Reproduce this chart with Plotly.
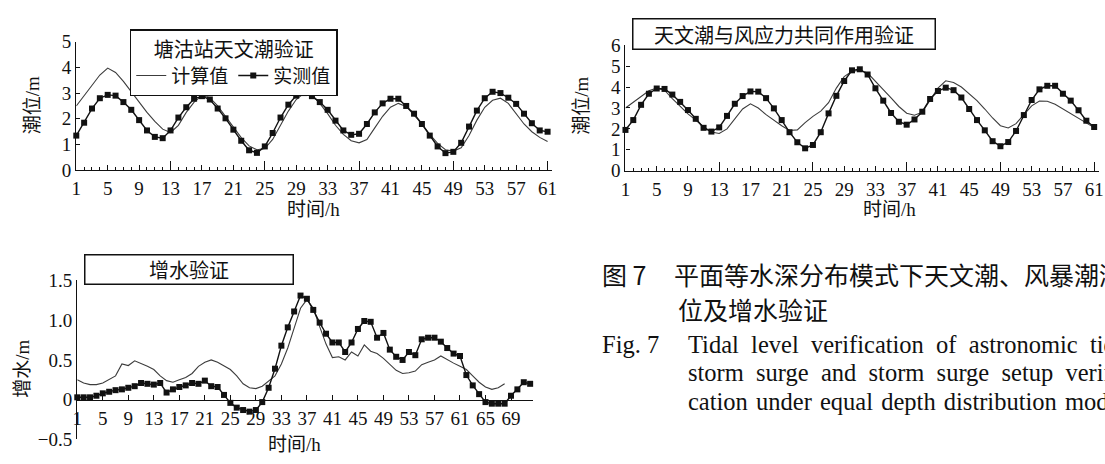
import plotly.graph_objects as go

W, H = 1105, 464

# ---------------- data ----------------
hours_61 = list(range(1, 62))

tanggu_calc = [2.5, 2.9, 3.3, 3.7, 3.97, 3.8, 3.45, 3.05, 2.65, 2.25,
               1.9, 1.6, 1.47, 1.75, 2.25, 2.65, 2.9, 2.82, 2.5, 2.1,
               1.68, 1.27, 0.95, 0.8, 0.85, 1.2, 1.75, 2.3, 2.75, 3.0,
               2.93, 2.6, 2.2, 1.75, 1.4, 1.15, 1.07, 1.2, 1.65, 2.1,
               2.45, 2.6, 2.48, 2.15, 1.8, 1.4, 1.05, 0.8, 0.75, 0.88,
               1.35, 1.95, 2.45, 2.72, 2.8, 2.6, 2.2, 1.8, 1.5, 1.28, 1.12]

tanggu_meas = [1.35, 1.85, 2.4, 2.8, 2.93, 2.9, 2.65, 2.35, 1.95, 1.55,
               1.3, 1.25, 1.55, 2.05, 2.45, 2.78, 2.88, 2.75, 2.4, 2.02,
               1.58, 1.15, 0.78, 0.68, 0.93, 1.45, 2.05, 2.55, 2.9, 3.0,
               2.88, 2.65, 2.35, 1.93, 1.55, 1.38, 1.42, 1.8, 2.25, 2.6,
               2.78, 2.78, 2.5, 2.2, 1.8, 1.35, 0.93, 0.67, 0.72, 1.07,
               1.7, 2.32, 2.8, 3.05, 3.0, 2.82, 2.58, 2.2, 1.83, 1.55, 1.5]

combined_calc = [3.0, 3.27, 3.55, 3.82, 3.95, 3.85, 3.45, 3.08, 2.72, 2.42,
                 2.1, 1.85, 1.78, 2.0, 2.45, 2.95, 3.2, 3.0, 2.68, 2.4,
                 2.15, 1.92, 1.95, 2.3, 2.6, 2.85, 3.25, 3.95, 4.5, 4.75,
                 4.8, 4.67, 4.3, 3.88, 3.48, 3.07, 2.75, 2.65, 2.8, 3.35,
                 3.95, 4.3, 4.22, 4.0, 3.68, 3.35, 2.95, 2.52, 2.15, 2.04,
                 2.25, 2.65, 3.1, 3.33, 3.32, 3.18, 2.95, 2.72, 2.5, 2.3, 2.06]

combined_meas = [1.95, 2.42, 3.15, 3.68, 3.93, 3.91, 3.64, 3.29, 2.9, 2.48,
                 2.05, 1.87, 2.07, 2.62, 3.2, 3.57, 3.79, 3.78, 3.47, 2.98,
                 2.42, 1.84, 1.36, 1.07, 1.23, 1.84, 2.74, 3.58, 4.29, 4.8,
                 4.85, 4.6, 3.94, 3.35, 2.76, 2.34, 2.2, 2.45, 2.82, 3.43,
                 3.81, 3.97, 3.85, 3.5, 2.95, 2.42, 1.93, 1.41, 1.17, 1.37,
                 1.9, 2.66, 3.38, 3.89, 4.06, 4.06, 3.68, 3.35, 2.89, 2.39, 2.09]

surge_calc_hours = list(range(1, 69))
surge_calc = [0.25, 0.21, 0.19, 0.19, 0.21, 0.25, 0.30, 0.45, 0.43, 0.49,
              0.46, 0.42, 0.38, 0.30, 0.24, 0.22, 0.25, 0.28, 0.33, 0.42,
              0.47, 0.50, 0.47, 0.42, 0.38, 0.30, 0.20, 0.15, 0.14, 0.17,
              0.23, 0.30, 0.45, 0.65, 0.90, 1.15, 1.26, 1.15, 0.92, 0.70,
              0.53, 0.54, 0.50, 0.60, 0.55, 0.69, 0.61, 0.58, 0.52, 0.45,
              0.37, 0.33, 0.34, 0.36, 0.44, 0.47, 0.50, 0.55, 0.50, 0.46,
              0.42, 0.38, 0.30, 0.22, 0.16, 0.13, 0.15, 0.20]

surge_meas_hours = list(range(1, 73))
surge_meas = [0.03, 0.03, 0.03, 0.05, 0.08, 0.10, 0.12, 0.13, 0.15, 0.17,
              0.21, 0.20, 0.19, 0.21, 0.09, 0.13, 0.16, 0.18, 0.21, 0.20,
              0.24, 0.17, 0.16, 0.06, -0.04, -0.10, -0.13, -0.15, -0.13, -0.03,
              0.15, 0.39, 0.68, 0.91, 1.11, 1.31, 1.27, 1.13, 0.97, 0.83,
              0.72, 0.72, 0.60, 0.72, 0.89, 0.99, 0.98, 0.78, 0.84, 0.63,
              0.54, 0.50, 0.60, 0.56, 0.76, 0.78, 0.78, 0.73, 0.65, 0.58,
              0.55, 0.31, 0.18, 0.07, -0.03, -0.05, -0.05, -0.05, 0.05, 0.13,
              0.22, 0.20]

tide_ticks = list(range(1, 62, 4))
tide_major_ticks = list(range(1, 62, 12))
surge_ticks = list(range(1, 70, 4))
surge_yticks = [-0.5, 0, 0.5, 1.0, 1.5]
surge_yticktext = ["\u22120.5", "0", "0.5", "1.0", "1.5"]

# ---------------- style ----------------
SERIF = "Liberation Serif, Noto Sans CJK SC"
CJK = "Noto Sans CJK SC"
INK = "#111111"
CALC = "#3c3c3c"


def fx(p):
    return p / W


def fy(p):
    return 1 - p / H


fig = go.Figure()


def add_pair(xc, yc, xm, ym, xa, ya, legend):
    fig.add_trace(go.Scatter(x=xc, y=yc, mode="lines", name="计算值",
                             line=dict(color=CALC, width=1.1),
                             xaxis=xa, yaxis=ya, showlegend=legend, cliponaxis=False))
    fig.add_trace(go.Scatter(x=xm, y=ym, mode="lines+markers", name="实测值",
                             line=dict(color=INK, width=1.4),
                             marker=dict(symbol="square", size=6, color=INK),
                             xaxis=xa, yaxis=ya, showlegend=legend, cliponaxis=False))


add_pair(hours_61, tanggu_calc, hours_61, tanggu_meas, "x", "y", True)
add_pair(hours_61, combined_calc, hours_61, combined_meas, "x2", "y2", False)
add_pair(surge_calc_hours, surge_calc, surge_meas_hours, surge_meas, "x3", "y3", False)

# empty carriers for the overlay tick axes
for xa, ya in (("x4", "y"), ("x5", "y2"), ("x3", "y6")):
    fig.add_trace(go.Scatter(x=[], y=[], xaxis=xa, yaxis=ya, showlegend=False, hoverinfo="skip"))

tickfont = dict(family=SERIF, size=19, color=INK)
base = dict(showline=True, linecolor=INK, linewidth=1.3, ticks="inside", tickcolor=INK,
            tickwidth=1, showgrid=False, zeroline=False, tickfont=tickfont, fixedrange=True)
minor = dict(ticks="inside", ticklen=3, tickmode="linear", tick0=1, dtick=1,
             tickcolor=INK, tickwidth=1, showgrid=False)
tall = dict(showline=False, showgrid=False, zeroline=False, ticks="inside", ticklen=9,
            tickcolor=INK, tickwidth=1, showticklabels=False, fixedrange=True,
            tickmode="array", tickvals=tide_major_ticks)

fig.update_layout(
    width=W, height=H, margin=dict(l=0, r=0, t=0, b=0),
    paper_bgcolor="white", plot_bgcolor="white",
    xaxis=dict(base, domain=[fx(72), fx(552)], range=[1, 61.5], anchor="y",
               tickmode="array", tickvals=tide_ticks, ticklen=5, minor=minor,
               ticklabelstandoff=1),
    yaxis=dict(base, domain=[fy(168), fy(33)], range=[0, 5], anchor="x",
               tickmode="array", tickvals=[0, 1, 2, 3, 4, 5], ticklen=4),
    xaxis4=dict(tall, overlaying="x", anchor="y", domain=[fx(72), fx(552)], range=[1, 61.5]),
    xaxis2=dict(base, domain=[fx(626.7), 1.0], range=[1, 61.62], anchor="y2",
                tickmode="array", tickvals=tide_ticks, ticklen=5, minor=minor,
                ticklabelstandoff=1),
    yaxis2=dict(base, domain=[fy(168.3), fy(36.9)], range=[0, 6], anchor="x2",
                tickmode="array", tickvals=[0, 1, 2, 3, 4, 5, 6], ticklen=4),
    xaxis5=dict(tall, overlaying="x2", anchor="y2", domain=[fx(626.7), 1.0], range=[1, 61.62]),
    xaxis3=dict(base, domain=[fx(73), fx(533)], range=[1, 72.4], anchor="free",
                position=fy(408.3), tickmode="array", tickvals=surge_ticks, ticklen=5,
                ticklabelstandoff=1),
    yaxis3=dict(base, domain=[fy(449.8), fy(283.3)], range=[-0.5, 1.5], anchor="x3",
                tickmode="array", tickvals=surge_yticks, ticktext=surge_yticktext, ticks=""),
    yaxis6=dict(showline=False, showgrid=False, zeroline=False, ticks="inside", ticklen=6,
                tickcolor=INK, tickwidth=1, showticklabels=False, fixedrange=True,
                overlaying="y3", anchor="x3", range=[-0.5, 1.5],
                tickmode="array", tickvals=[-0.5, 1.5]),
    legend=dict(orientation="h", x=fx(126), y=fy(20), xanchor="left", yanchor="top",
                bordercolor=INK, borderwidth=1.5, bgcolor="white",
                font=dict(family=CJK, size=19, color=INK),
                title=dict(text="塘沽站天文潮验证", side="top center",
                           font=dict(family=CJK, size=20, color=INK)),
                itemwidth=30, tracegroupgap=0),
    showlegend=True,
)


def note(text, x, y, size, family=CJK, xanchor="center", textangle=0, **kw):
    fig.add_annotation(text=text, x=fx(x), y=fy(y), xref="paper", yref="paper",
                       showarrow=False, font=dict(family=family, size=size, color=INK),
                       xanchor=xanchor, yanchor="middle", textangle=textangle, **kw)


# boxed panel titles
note("天文潮与风应力共同作用验证", 786.5, 25.5, 20, bordercolor=INK, borderwidth=1.5,
     borderpad=2, width=297, height=25)
note("增水验证", 186, 272, 20, bordercolor=INK, borderwidth=1.5,
     borderpad=2, width=203, height=24)

# axis titles
note("潮位/m", 28, 100, 19, SERIF, textangle=-90)
note("潮位/m", 582, 100, 19, SERIF, textangle=-90)
note("时间/h", 312, 209, 19, SERIF)
note("时间/h", 893, 209, 19, SERIF)
note("增水/m", 18, 376, 19, SERIF, textangle=-90)
note("时间/h", 292, 455, 19, SERIF)

# caption
NB = "\u00a0"
GAP3 = NB * 2
GAP4 = NB * 2
GAP5 = NB + "\u200a"
note("图 7", 601, 276, 25, CJK, xanchor="left")
note("平面等水深分布模式下天文潮、风暴潮潮位及", 674, 276, 25, CJK, xanchor="left")
note("位及增水验证", 678, 313, 25, CJK, xanchor="left")
note("Fig. 7", 601, 350, 24.5, SERIF, xanchor="left")
note(("Tidal level verification of astronomic tidal level,").replace(" ", GAP3),
     688, 350, 24.5, SERIF, xanchor="left")
note(("storm surge and storm surge setup verifi-").replace(" ", GAP4),
     688, 380, 24.5, SERIF, xanchor="left")
note("cation under equal depth distribution model".replace(" ", GAP5),
     688, 410, 24.5, SERIF, xanchor="left")

fig.write_html(
    "out.html",
    config={"displayModeBar": False},
    post_script=("document.body.style.margin='0';document.body.style.padding='0';"
                 "document.documentElement.style.overflow='hidden';"
                 "document.body.style.overflow='hidden';"),
)
